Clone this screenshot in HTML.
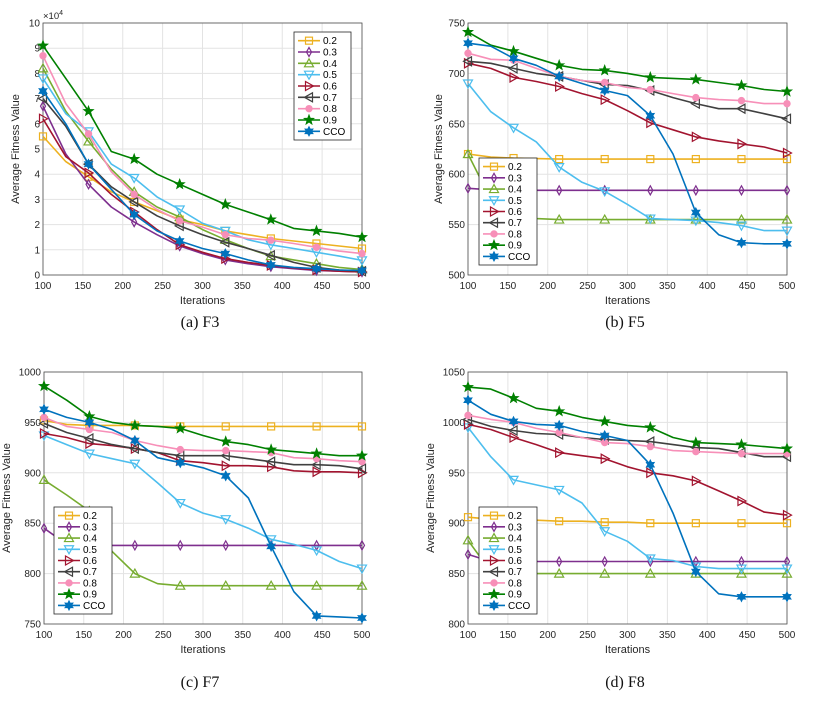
<!DOCTYPE html>
<html><head><meta charset="utf-8"><style>
body{margin:0;background:#fff;width:825px;height:705px;overflow:hidden;font-family:"Liberation Sans",sans-serif}
svg{position:absolute;left:0;top:0}
.cap{position:absolute;font-family:"Liberation Serif",serif;font-size:16px;color:#111;width:200px;text-align:center}
</style></head><body>
<svg id="chart" width="825" height="705"></svg>
<div class="cap" style="left:100px;top:314px">(a) F3</div>
<div class="cap" style="left:525px;top:314px">(b) F5</div>
<div class="cap" style="left:100px;top:674px">(c) F7</div>
<div class="cap" style="left:525px;top:674px">(d) F8</div>
<script>
const iters=[100,128.6,157.1,185.7,214.3,242.9,271.4,300,328.6,357.1,385.7,414.3,442.9,471.4,500];
const seriesNames=["0.2","0.3","0.4","0.5","0.6","0.7","0.8","0.9","CCO"];
const xTicks=[100,150,200,250,300,350,400,450,500];
const aTicks=[0,1,2,3,4,5,6,7,8,9,10];
const bTicks=[500,550,600,650,700,750];
const cTicks=[750,800,850,900,950,1000];
const dTicks=[800,850,900,950,1000,1050];
const aData=[
[5.5,4.5,3.9,3.3,2.9,2.55,2.2,2.0,1.75,1.6,1.45,1.35,1.25,1.15,1.05],
[6.7,4.8,3.6,2.7,2.1,1.6,1.15,0.85,0.6,0.45,0.33,0.25,0.18,0.15,0.12],
[8.2,6.5,5.3,4.2,3.3,2.7,2.3,1.8,1.4,1.05,0.75,0.6,0.45,0.3,0.22],
[7.8,6.4,5.7,4.4,3.85,3.1,2.6,2.05,1.75,1.4,1.2,1.05,0.9,0.75,0.58],
[6.2,4.7,4.05,3.2,2.5,1.8,1.2,0.9,0.65,0.5,0.38,0.28,0.2,0.15,0.12],
[7.0,5.9,4.4,3.5,2.9,2.35,1.95,1.6,1.3,1.05,0.78,0.5,0.3,0.2,0.15],
[8.7,6.8,5.6,4.1,3.2,2.6,2.15,1.9,1.6,1.45,1.38,1.25,1.1,0.95,0.85],
[9.1,7.8,6.5,4.9,4.6,4.0,3.6,3.2,2.8,2.5,2.2,1.85,1.75,1.65,1.5],
[7.3,6.0,4.4,3.4,2.4,1.75,1.35,1.05,0.85,0.6,0.4,0.3,0.25,0.2,0.18]];
const bData=[
[620,617,616,615.5,615,615,615,615,615,615,615,615,615,615,615],
[586,584.5,584,584,584,584,584,584,584,584,584,584,584,584,584],
[620,575,558,556,555,555,555,555,555,555,555,555,555,555,555],
[690,662,646,632,607,592,583,570,556,555,554,552,549,544,544],
[710,705,696,692,687,680,674,663,651,644,637,633,630,627,621],
[712,710,705,700,697,693,689,688,683,676,670,665,665,660,655],
[720,714,713,705,697,693,691,686,684,680,676,674,673,670,670],
[741,728,722,715,708,704,703,700,696,695,694,691,688,684,682],
[730,727,715,708,697,690,683,678,658,620,562,540,532,531,531]];
const cData=[
[952,948,947,947,947,946,946,946,946,946,946,946,946,946,946],
[845,829,828,828,828,828,828,828,828,828,828,828,828,828,828],
[893,878,862,822,800,790,788,788,788,788,788,788,788,788,788],
[937,928,919,914,909,890,870,860,854,845,834,829,823,812,805],
[939,935,929,927,924,920,912,910,907,907,906,902,901,901,900],
[949,940,934,928,924,920,917,917,917,914,911,908,908,907,904],
[955,946,943,940,932,927,923,922,922,921,920,915,914,912,911],
[986,972,956,950,947,946,944,937,931,928,923,921,919,917,917],
[963,955,950,943,932,915,910,905,897,875,827,782,758,757,756]];
const dData=[
[906,904,903,903,902,902,901,901,900,900,900,900,900,900,900],
[869,862,862,862,862,862,862,862,862,862,862,862,862,862,862],
[883,852,850,850,850,850,850,850,850,850,850,850,850,850,850],
[995,966,943,938,933,920,892,882,865,863,857,855,855,855,855],
[998,993,985,978,970,967,964,956,950,947,942,932,922,911,908],
[1003,996,992,989,988,985,983,982,981,978,975,974,970,966,966],
[1007,1003,1000,994,990,985,980,979,976,972,971,970,969,969,969],
[1035,1033,1024,1014,1011,1005,1001,997,995,985,980,979,978,976,974],
[1022,1008,1001,998,997,991,987,982,958,910,852,830,827,827,827]];
const colors=["#EDB120","#7E2F8E","#77AC30","#4DBEEE","#A2142F","#404040","#F78FB8","#008000","#0072BD"];
const NS="http://www.w3.org/2000/svg";
const svg=document.getElementById('chart');
function mk(tag,attrs,parent){const e=document.createElementNS(NS,tag);for(const k in attrs)e.setAttribute(k,attrs[k]);(parent||svg).appendChild(e);return e;}
function marker(g,i,x,y,c){
 const s=3.5;let e;
 if(i===0)e=mk('rect',{x:x-s,y:y-s,width:2*s,height:2*s,fill:'none',stroke:c,'stroke-width':1.2},g);
 else if(i===1)e=mk('polygon',{points:`${x},${y-s-1} ${x+s-1},${y} ${x},${y+s+1} ${x-s+1},${y}`,fill:'none',stroke:c,'stroke-width':1.2},g);
 else if(i===2)e=mk('polygon',{points:`${x},${y-s-1} ${x+s+1},${y+s} ${x-s-1},${y+s}`,fill:'none',stroke:c,'stroke-width':1.2},g);
 else if(i===3)e=mk('polygon',{points:`${x},${y+s+1} ${x+s+1},${y-s} ${x-s-1},${y-s}`,fill:'none',stroke:c,'stroke-width':1.2},g);
 else if(i===4)e=mk('polygon',{points:`${x+s+1},${y} ${x-s},${y-s-1} ${x-s},${y+s+1}`,fill:'none',stroke:c,'stroke-width':1.2},g);
 else if(i===5)e=mk('polygon',{points:`${x-s-1},${y} ${x+s},${y-s-1} ${x+s},${y+s+1}`,fill:'none',stroke:c,'stroke-width':1.2},g);
 else if(i===6)e=mk('circle',{cx:x,cy:y,r:3.2,fill:c,stroke:c},g);
 else {const p=[];const n=i===7?5:6;const R=i===7?5.5:5,r=i===7?2.3:2.7;
  for(let k=0;k<2*n;k++){const a=-Math.PI/2+k*Math.PI/n;const rr=k%2?r:R;p.push((x+rr*Math.cos(a)).toFixed(1)+','+(y+rr*Math.sin(a)).toFixed(1));}
  e=mk('polygon',{points:p.join(' '),fill:c,stroke:c,'stroke-width':0.6},g);}
 
 
}
function panel(id,L,R,T,B,ticks,data,leg,ylx,mult){
 const g=mk('g',{});
 
 
 const y0=ticks[0],y1=ticks[ticks.length-1];
 const X=v=>L+(v-100)/400*(R-L), Y=v=>B-(v-y0)/(y1-y0)*(B-T);
 mk('rect',{x:L,y:T,width:R-L,height:B-T,fill:'#fff'},g);
 xTicks.forEach(t=>{mk('line',{x1:X(t),x2:X(t),y1:T,y2:B,stroke:'#e3e3e3','stroke-width':1},g);
  const tx=mk('text',{x:X(t),y:B+14,'text-anchor':'middle','font-size':10,fill:'#262626'},g);tx.textContent=t;
  
  });
 ticks.forEach(t=>{mk('line',{x1:L,x2:R,y1:Y(t),y2:Y(t),stroke:'#e3e3e3','stroke-width':1},g);
  const tx=mk('text',{x:L-3,y:Y(t)+3.5,'text-anchor':'end','font-size':10,fill:'#262626'},g);tx.textContent=t;
  
  });
 mk('rect',{x:L,y:T,width:R-L,height:B-T,fill:'none',stroke:'#4d4d4d','stroke-width':0.8},g);
 const xl=mk('text',{x:(L+R)/2,y:B+29,'text-anchor':'middle','font-size':11,fill:'#262626'},g);xl.textContent='Iterations';
 
 
 const yl=mk('text',{x:ylx,y:(T+B)/2,'text-anchor':'middle','font-size':11,fill:'#262626',transform:`rotate(-90 ${ylx} ${(T+B)/2})`},g);yl.textContent='Average Fitness Value';
 
 
 if(mult){const m=mk('text',{x:L,y:T-4,'font-size':9.5,fill:'#262626'},g);m.innerHTML='×10<tspan dy="-4" font-size="7">4</tspan>';
  
  }
 data.forEach((d,i)=>{
  const pts=d.map((v,k)=>X(iters[k]).toFixed(1)+','+Y(v).toFixed(1)).join(' ');
  const pl=mk('polyline',{points:pts,fill:'none',stroke:colors[i],'stroke-width':1.6,'stroke-linejoin':'round'},g);
  
  
  d.forEach((v,k)=>{if(k%2===0)marker(g,i,X(iters[k]),Y(v),colors[i]);});
 });
 const lg=mk('g',{},g);
 
 
 mk('rect',{x:leg[0],y:leg[1],width:leg[2],height:leg[3],fill:'#fff',stroke:'#262626','stroke-width':0.8},lg);
 const rh=(leg[3]-6)/9;
 seriesNames.forEach((n,i)=>{const cy=leg[1]+3+rh*(i+0.5);
  mk('line',{x1:leg[0]+4,x2:leg[0]+26,y1:cy,y2:cy,stroke:colors[i],'stroke-width':1.6},lg);
  marker(lg,i,leg[0]+15,cy,colors[i]);
  const t=mk('text',{x:leg[0]+29,y:cy+3.5,'font-size':10,fill:'#000'},lg);t.textContent=n;
  
  });
}
panel('a',43,362,23,275,aTicks,aData,[294,32,57,108],19,true);
panel('b',468,787,23,275,bTicks,bData,[479,158,58,107],442,false);
panel('c',44,362,372,624,cTicks,cData,[54,507,58,107],10,false);
panel('d',468,787,372,624,dTicks,dData,[479,507,58,107],434,false);
</script>
</body></html>
